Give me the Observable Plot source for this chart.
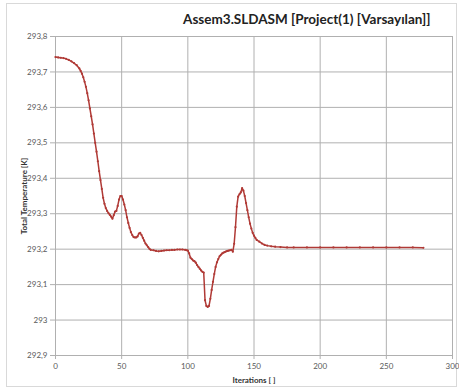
<!DOCTYPE html>
<html><head><meta charset="utf-8">
<script src="https://cdn.jsdelivr.net/npm/d3@7"></script>
<script src="https://cdn.jsdelivr.net/npm/@observablehq/plot@0.6"></script>
<style>
body{margin:0;background:#fff;font-family:Lato,"Open Sans",sans-serif;}
#wrap{position:relative;width:459px;height:390px;}
#border{position:absolute;left:6px;top:3px;width:451px;height:384px;border:1px solid #d9d9d9;box-sizing:border-box;pointer-events:none;}
</style></head>
<body><div id="wrap"><div id="border"></div></div>
<script>
const title = "Assem3.SLDASM [Project(1) [Varsayılan]]";
const xLabel = "Iterations [ ]";
const yLabel = "Total Temperature [K]";
const xTicks = [0, 50, 100, 150, 200, 250, 300];
const yTicks = [292.9, 293.0, 293.1, 293.2, 293.3, 293.4, 293.5, 293.6, 293.7, 293.8];
const iterations = [0, 2, 4, 6, 8, 10, 12, 14, 16, 18, 19, 20, 21, 22, 23, 24, 25, 26, 27, 28, 29, 30, 31, 32, 33, 34, 35, 36, 37, 38, 39, 40, 41, 42, 43, 44, 45, 46, 47, 48, 49, 50, 51, 52, 53, 54, 55, 56, 57, 58, 59, 60, 61, 62, 63, 64, 65, 66, 67, 68, 69, 70, 71, 72, 74, 76, 78, 80, 82, 84, 86, 88, 90, 92, 94, 96, 98, 99, 100, 101, 102, 103, 104, 105, 106, 107, 108, 109, 110, 111, 112, 113, 114, 115, 116, 117, 118, 119, 120, 121, 122, 123, 124, 125, 126, 127, 128, 129, 130, 131, 132, 133, 134, 135, 136, 137, 138, 139, 140, 141, 142, 143, 144, 145, 146, 147, 148, 149, 150, 151, 152, 154, 156, 158, 160, 163, 166, 170, 175, 180, 190, 200, 210, 220, 230, 240, 250, 260, 270, 278];
const temperature = [293.742, 293.741, 293.740, 293.739, 293.737, 293.734, 293.730, 293.725, 293.719, 293.710, 293.703, 293.695, 293.685, 293.672, 293.658, 293.640, 293.620, 293.597, 293.575, 293.552, 293.526, 293.500, 293.475, 293.448, 293.420, 293.395, 293.370, 293.345, 293.328, 293.316, 293.308, 293.302, 293.297, 293.292, 293.286, 293.296, 293.306, 293.308, 293.322, 293.340, 293.350, 293.350, 293.340, 293.326, 293.310, 293.290, 293.274, 293.260, 293.248, 293.240, 293.234, 293.233, 293.233, 293.236, 293.244, 293.246, 293.240, 293.232, 293.224, 293.216, 293.211, 293.206, 293.201, 293.198, 293.197, 293.195, 293.194, 293.195, 293.196, 293.197, 293.197, 293.198, 293.198, 293.199, 293.199, 293.199, 293.198, 293.197, 293.196, 293.188, 293.176, 293.172, 293.168, 293.166, 293.162, 293.155, 293.150, 293.145, 293.140, 293.136, 293.134, 293.056, 293.040, 293.037, 293.040, 293.060, 293.085, 293.108, 293.130, 293.150, 293.163, 293.172, 293.180, 293.184, 293.188, 293.190, 293.192, 293.194, 293.195, 293.196, 293.197, 293.198, 293.193, 293.215, 293.262, 293.320, 293.348, 293.355, 293.360, 293.372, 293.365, 293.350, 293.330, 293.310, 293.290, 293.272, 293.258, 293.246, 293.238, 293.232, 293.226, 293.221, 293.216, 293.212, 293.210, 293.208, 293.207, 293.206, 293.205, 293.205, 293.205, 293.205, 293.205, 293.205, 293.205, 293.205, 293.205, 293.205, 293.205, 293.204];
const data = iterations.map((x, i) => ({x, y: temperature[i]}));
const fmt = d => String(+d.toFixed(1)).replace(".", ",");
const lineColor = "#b03a36";

const chart = Plot.plot({
  width: 459, height: 390,
  marginLeft: 55, marginRight: 7, marginTop: 36, marginBottom: 35,
  style: {fontFamily: "Lato, 'Open Sans', sans-serif", fontSize: "8px", color: "#595959", background: "transparent"},
  x: {domain: [0, 300], ticks: xTicks, tickFormat: d => String(d), tickSize: 4, tickPadding: 4,
      label: xLabel, labelAnchor: "center", labelArrow: "none", labelOffset: 27},
  y: {domain: [292.9, 293.8], ticks: yTicks, tickFormat: fmt, tickSize: 5, tickPadding: 3,
      label: yLabel, labelAnchor: "center", labelArrow: "none", labelOffset: 34},
  marks: [
    Plot.gridX(xTicks, {stroke: "#b0b0b0", strokeOpacity: 1, strokeWidth: 1}),
    Plot.gridY(yTicks, {stroke: "#b0b0b0", strokeOpacity: 1, strokeWidth: 1}),
    Plot.ruleX([0], {stroke: "#b0b0b0"}),
    Plot.ruleY([292.9], {stroke: "#b0b0b0"}),
    Plot.line(data, {x: "x", y: "y", stroke: lineColor, strokeWidth: 1.5}),
    Plot.dot(data, {x: "x", y: "y", r: 1.1, fill: lineColor, stroke: "none"}),
    Plot.text([title], {frameAnchor: "top-right", dx: -22, dy: -22, text: d => d, fontSize: 13.5, fontWeight: "bold", fill: "#222", fontFamily: "Lato, 'Open Sans', sans-serif"})
  ]
});
chart.querySelectorAll("g[aria-label='x-axis label'] text, g[aria-label='y-axis label'] text").forEach(t => { t.style.fontWeight = "bold"; t.style.fill = "#333"; });
chart.querySelectorAll("g[aria-label$='tick'] path, g[aria-label$='tick'] line").forEach(t => t.setAttribute("stroke", "#b0b0b0"));
document.getElementById("wrap").appendChild(chart);
chart.style.position = "absolute"; chart.style.left = "0"; chart.style.top = "0";
</script>
</body></html>
